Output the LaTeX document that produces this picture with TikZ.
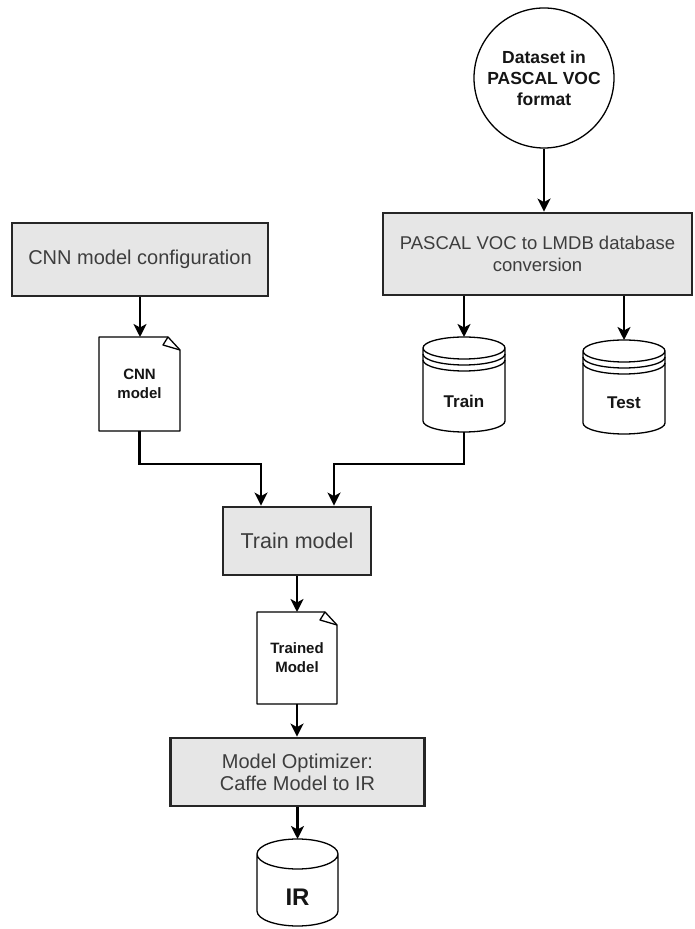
\documentclass[tikz,border=0pt]{standalone}
\usepackage{fontspec}
\setmainfont{Liberation Sans}
\usetikzlibrary{arrows.meta,calc}

\definecolor{boxfill}{HTML}{E6E6E6}
\definecolor{boxline}{HTML}{262626}
\definecolor{boxtext}{HTML}{3D3D3D}
\definecolor{labeltext}{HTML}{151515}

\tikzset{
  procbox/.style={draw=boxline, line width=2.8pt, fill=boxfill, text=boxtext,
                  align=center, inner sep=0pt},
  outline/.style={draw=black, line width=1.3pt},
  flow/.style={draw=black, line width=2.2pt, -{Stealth[length=13pt,width=13pt,inset=3.5pt]}},
  hidden/.style={draw=none, inner sep=0pt, outer sep=0pt},
  boldlabel/.style={text=labeltext, align=center, font=\bfseries\fontsize{15}{19}\selectfont},
}

% sheet of paper with a folded top-right corner
\newcommand\docoutline[1]{%
  \draw[outline, line join=round] (#1.north west) -- ([xshift=-12pt]#1.north east)
    -- ([yshift=-13pt]#1.north east) -- (#1.south east) -- (#1.south west) -- cycle;
  \draw[outline, line join=round] ([xshift=-12pt]#1.north east)
    -- ([xshift=-17pt,yshift=-8pt]#1.north east) -- ([yshift=-13pt]#1.north east);
}

% cylinder drawn round a node: #2 = vertical radius of the end ellipses (pt)
\newcommand\cylinderoutline[2]{%
  \draw[outline] let \p1=(#1.north west), \p2=(#1.south east), \n1={(\x2-\x1)/2} in
    ({\x1+\n1},{\y1-#2pt}) ellipse[x radius=\n1, y radius=#2pt]
    (\x1,{\y1-#2pt}) -- (\x1,{\y2+#2pt})
      arc[start angle=180, end angle=360, x radius=\n1, y radius=#2pt]
      -- (\x2,{\y1-#2pt});
}

% two extra rims below the lid of a data store: #3 = gap between rims (pt)
\newcommand\cylinderrims[3]{%
  \draw[outline] let \p1=(#1.north west), \p2=(#1.south east), \n1={(\x2-\x1)/2} in
    (\x1,{\y1-#2pt-#3pt}) arc[start angle=180, end angle=360, x radius=\n1, y radius=#2pt]
    (\x1,{\y1-#2pt-2*#3pt}) arc[start angle=180, end angle=360, x radius=\n1, y radius=#2pt];
}

\begin{document}
\begin{tikzpicture}[x=1pt, y=1pt]
  \useasboundingbox (0,0) rectangle (694,929);
  \fill[white] (0,0) rectangle (694,929);

  % source dataset
  \node[circle, outline, minimum size=140pt, inner sep=0pt, align=center,
        text=labeltext, font=\bfseries\fontsize{17.5}{21}\selectfont]
        (dataset) at (544,851) {Dataset in\\PASCAL VOC\\format};

  % processing steps
  \node[procbox, minimum width=309pt, minimum height=82pt,
        font=\fontsize{18.5}{22}\selectfont]
        (convert) at (537.5,675) {PASCAL VOC to LMDB database\\conversion};
  \node[procbox, minimum width=256pt, minimum height=73pt,
        font=\fontsize{20}{23}\selectfont]
        (cnncfg) at (140,669.5) {CNN model configuration};
  \node[procbox, minimum width=148pt, minimum height=68pt,
        font=\fontsize{21.5}{24}\selectfont]
        (trainmodel) at (297,388) {Train model};
  \node[procbox, minimum width=254pt, minimum height=68pt,
        font=\fontsize{20}{22}\selectfont]
        (optimizer) at (297.5,157) {Model Optimizer:\\Caffe Model to IR};

  % documents
  \node[hidden, boldlabel, minimum width=81pt, minimum height=94pt]
        (cnndoc) at (139.5,545) {CNN\\model};
  \docoutline{cnndoc}
  \node[hidden, boldlabel, minimum width=80pt, minimum height=92pt]
        (trained) at (297,271) {Trained\\Model};
  \docoutline{trained}

  % data stores
  \node[hidden, minimum width=82pt, minimum height=95pt] (train) at (464,544.5) {};
  \cylinderoutline{train}{11}
  \cylinderrims{train}{11}{6}
  \node[boldlabel, font=\bfseries\fontsize{17}{20}\selectfont] (trainlabel) at (464,527.5) {Train};

  \node[hidden, minimum width=82pt, minimum height=94pt] (test) at (624,542) {};
  \cylinderoutline{test}{11}
  \cylinderrims{test}{11}{6}
  \node[boldlabel, font=\bfseries\fontsize{17}{20}\selectfont] (testlabel) at (624,526) {Test};

  \node[hidden, minimum width=81pt, minimum height=87pt] (ir) at (297.5,46.5) {};
  \cylinderoutline{ir}{15}
  \node[boldlabel, font=\bfseries\fontsize{24}{28}\selectfont] (irlabel) at (297.5,31.5) {IR};

  % entry points on top of the training step
  \coordinate (inL) at ([xshift=-36pt]trainmodel.north);
  \coordinate (inR) at ([xshift=37pt]trainmodel.north);

  % connectors
  \draw[flow] (dataset.south) -- (dataset.south |- convert.north);
  \draw[flow] (convert.south -| train.north) -- (train.north);
  \draw[flow] (convert.south -| test.north) -- (test.north);
  \draw[flow] (cnncfg.south) -- (cnncfg.south |- cnndoc.north);
  \draw[flow] (cnndoc.south) -- ++(0,-33) -| (inL);
  \draw[flow] (train.south) -- ++(0,-32) -| (inR);
  \draw[flow] (trainmodel.south) -- (trainmodel.south |- trained.north);
  \draw[flow] (trained.south) -- (trained.south |- optimizer.north);
  \draw[flow] (optimizer.south) -- (optimizer.south |- ir.north);
\end{tikzpicture}
\end{document}
